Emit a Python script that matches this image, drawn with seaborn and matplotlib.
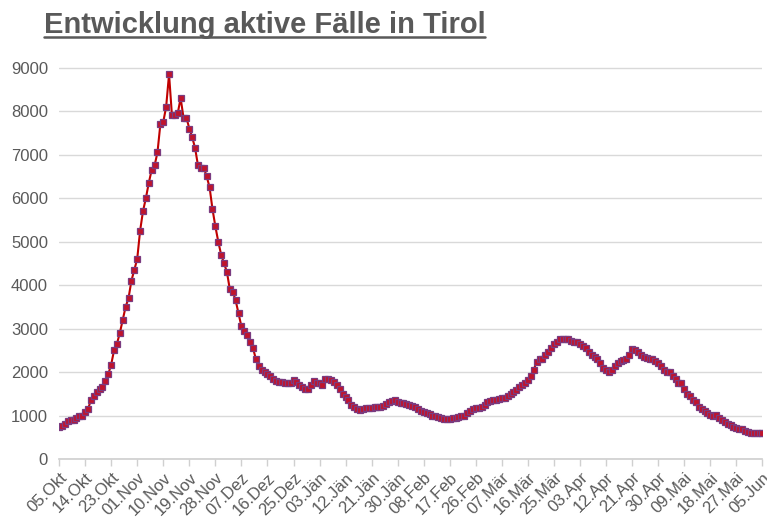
import matplotlib
matplotlib.use("Agg")
import matplotlib.pyplot as plt
import seaborn as sns
import numpy as np
import pandas as pd

sns.set_theme(style="white")
plt.rcParams["font.family"] = ["Liberation Sans", "DejaVu Sans"]

# daily active cases, 05 Okt .. 05 Jun
cases = [
    740, 750, 800, 870, 900, 900, 950, 980, 1000,
    1090, 1150, 1350, 1450, 1550, 1600, 1650, 1800, 1950,
    2170, 2500, 2650, 2900, 3200, 3500, 3700, 4100, 4350,
    4600, 5250, 5700, 6000, 6350, 6650, 6750, 7050, 7700,
    7750, 8100, 8850, 7900, 7900, 7950, 8300, 7850, 7850,
    7600, 7400, 7150, 6750, 6700, 6700, 6500, 6250, 5750,
    5350, 5000, 4700, 4500, 4300, 3900, 3850, 3650, 3350,
    3050, 2950, 2850, 2700, 2550, 2300, 2150, 2050, 1990,
    1950, 1900, 1850, 1800, 1780, 1780, 1750, 1750, 1750,
    1820, 1780, 1700, 1650, 1600, 1600, 1700, 1800, 1750,
    1750, 1700, 1850, 1850, 1820, 1780, 1700, 1600, 1500,
    1420, 1350, 1250, 1200, 1150, 1130, 1150, 1170, 1180,
    1180, 1190, 1200, 1200, 1230, 1260, 1300, 1330, 1360,
    1300, 1280, 1280, 1270, 1250, 1220, 1200, 1150, 1100,
    1070, 1050, 1030, 1000, 980, 960, 950, 930, 920,
    930, 940, 950, 960, 980, 1000, 1050, 1100, 1150,
    1170, 1180, 1200, 1250, 1300, 1330, 1350, 1360, 1380,
    1400, 1400, 1450, 1500, 1550, 1590, 1650, 1700, 1750,
    1820, 1900, 2050, 2240, 2300, 2300, 2400, 2450, 2550,
    2650, 2700, 2750, 2750, 2750, 2750, 2720, 2700, 2700,
    2650, 2600, 2550, 2450, 2400, 2350, 2300, 2200, 2100,
    2050, 2000, 2050, 2150, 2200, 2250, 2280, 2300, 2400,
    2520, 2500, 2450, 2400, 2350, 2320, 2300, 2300, 2250,
    2200, 2150, 2050, 2000, 2000, 1900, 1850, 1750, 1750,
    1600, 1500, 1450, 1350, 1300, 1200, 1150, 1100, 1050,
    1020, 1000, 1020, 950, 900, 850, 800, 780, 740,
    720, 700, 680, 650, 620, 600, 600, 600, 600,
    600,
]
tick_labels = ["05.Okt", "14.Okt", "23.Okt", "01.Nov", "10.Nov", "19.Nov", "28.Nov",
               "07.Dez", "16.Dez", "25.Dez", "03.Jän", "12.Jän", "21.Jän", "30.Jän",
               "08.Feb", "17.Feb", "26.Feb", "07.Mär", "16.Mär", "25.Mär", "03.Apr",
               "12.Apr", "21.Apr", "30.Apr", "09.Mai", "18.Mai", "27.Mai", "05.Jun"]
tick_step = 9

df = pd.DataFrame({"day": np.arange(len(cases)), "cases": cases})

fig = plt.figure(figsize=(7.67, 5.27), dpi=100)
ax = fig.add_axes([0.077, 0.129, 0.917, 0.755])

sns.lineplot(data=df, x="day", y="cases", ax=ax, color="#c00000", linewidth=1.5,
             marker="s", markersize=4, markerfacecolor="#c0142c",
             markeredgecolor="#7a3b80", markeredgewidth=0.9)

ax.set_xlim(0, len(cases) - 1)
ax.set_ylim(0, 9150)
ax.set_yticks(np.arange(0, 9001, 1000))
ax.set_xticks(np.arange(0, len(cases), tick_step))
ax.set_xticklabels(tick_labels, rotation=45, ha="right", rotation_mode="anchor")
ax.tick_params(axis="x", colors="#d0d0d0", length=5, width=1, labelcolor="#595959",
               labelsize=12, pad=3, direction="out", bottom=True)
ax.tick_params(axis="y", labelcolor="#595959", labelsize=12, length=0, pad=8)
ax.grid(axis="y", color="#d9d9d9", linewidth=1)
ax.set_xlabel("")
ax.set_ylabel("")
for s in ["top", "right", "left"]:
    ax.spines[s].set_visible(False)
ax.spines["bottom"].set_color("#d0d0d0")

t = fig.text(0.057, 0.937, "Entwicklung aktive Fälle in Tirol", fontsize=21,
             fontweight="bold", color="#595959", ha="left", va="baseline")
fig.canvas.draw()
bb = t.get_window_extent()
fig.add_artist(plt.Line2D([bb.x0 / fig.bbox.width, bb.x1 / fig.bbox.width],
                          [0.929, 0.929], color="#595959", linewidth=1.8))

fig.savefig("out.png", dpi=100)
